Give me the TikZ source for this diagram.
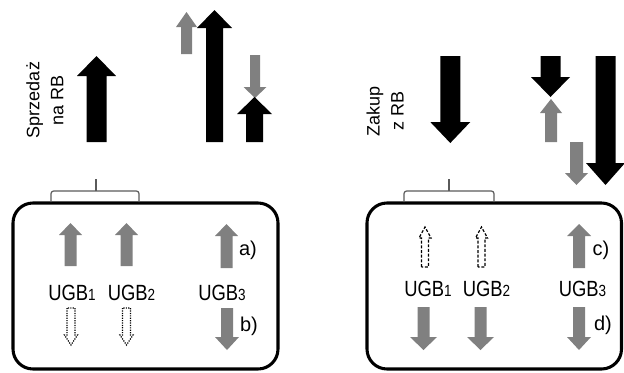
\documentclass[tikz,border=0pt]{standalone}
\usepackage{graphicx}
\usepackage{fontspec}
\setmainfont{Liberation Sans}
\definecolor{arrgray}{HTML}{808080}
\definecolor{bracegray}{HTML}{5A5A5A}
% x, tail y, head-base y, tip y, shaft half-width, head half-width, style
\newcommand{\blkarr}[7]{%
  \path[#7] (#1-#5,#2) -- (#1-#5,#3) -- (#1-#6,#3) -- (#1,#4) -- (#1+#6,#3)
    -- (#1+#5,#3) -- (#1+#5,#2) -- cycle;}
\newcommand{\subnum}[1]{{\fontsize{11}{11}\selectfont #1}}
\newcommand{\ugbtext}[1]{\scalebox{0.92}[1.1]{UGB\subnum{#1}}}
\begin{document}
\begin{tikzpicture}[x=0.75pt,y=-0.75pt,
  blk/.style={fill=black},
  gry/.style={fill=arrgray},
  dotarr/.style={draw=black,line width=0.9pt,dash pattern=on 0.9pt off 0.9pt},
  dasharr/.style={draw=black,line width=0.9pt,dash pattern=on 2.2pt off 1.3pt},
  box/.style={draw=black,line width=2.3pt,rounded corners=15pt},
  brace/.style={draw=bracegray,line width=0.9pt,rounded corners=2pt},
  ugb/.style={inner sep=0pt,font=\fontsize{15}{18}\selectfont},
  lab/.style={inner sep=0pt,font=\fontsize{15}{18}\selectfont},
  rot/.style={inner sep=0pt,rotate=90,align=center,font=\fontsize{13.5}{18}\selectfont}]
\useasboundingbox (0,0) rectangle (624,372);

% ---------- left part: top arrows ----------
\node[rot] (sprzedaz) at (45,100) {Sprzedaż\\na RB};
\blkarr{96.5}{142}{76}{56}{10}{19.5}{blk}
\blkarr{186.5}{54}{27}{12}{5.5}{10.5}{gry}
\blkarr{214.5}{142}{28}{10}{8.5}{17.5}{blk}
\blkarr{255}{55}{87}{98}{5}{11.5}{gry}
\blkarr{254.5}{142}{114}{97}{8.5}{17.5}{blk}

% ---------- left box ----------
\draw[box] (13,203) rectangle (278,369);
\draw[brace] (51,202) -- (51,191) -- (139,191) -- (139,202);
\draw[brace] (96,191) -- (96,179);

\blkarr{70.5}{266}{235}{223}{6}{11.5}{gry}
\blkarr{126.5}{266}{235}{223}{6}{11.5}{gry}
\blkarr{226.5}{268}{236}{224}{6}{11.5}{gry}
\blkarr{227}{308}{337}{350}{6}{12}{gry}
\blkarr{71}{308}{335}{345}{4}{6.5}{dotarr}
\blkarr{126.5}{308}{335}{345}{4}{6.5}{dotarr}

\node[ugb] (ugbla) at (72,293) {\ugbtext{1}};
\node[ugb] (ugblb) at (131.5,293) {\ugbtext{2}};
\node[ugb] (ugblc) at (222,293) {\ugbtext{3}};
\node[lab] (la) at (248,250) {a)};
\node[lab] (lb) at (249,326) {b)};

% ---------- right part: top arrows ----------
\node[rot] (zakup) at (385,111) {Zakup\\z RB};
\blkarr{450.3}{56}{122}{143}{10}{20}{blk}
\blkarr{550.5}{56}{77}{97}{10}{19.5}{blk}
\blkarr{551}{142}{113}{99}{6}{11}{gry}
\blkarr{576.5}{142}{173}{185}{6.5}{11.5}{gry}
\blkarr{605.5}{56}{163}{185}{10}{19.5}{blk}

% ---------- right box ----------
\draw[box] (367,203) rectangle (621.5,369);
\draw[brace] (404,202) -- (404,191) -- (494,191) -- (494,202);
\draw[brace] (449,191) -- (449,179);

\blkarr{425}{267}{238}{227}{3.5}{6}{dasharr}
\blkarr{481.5}{267}{238}{227}{3.5}{6}{dasharr}
\blkarr{423.5}{307}{337}{350}{6}{13.5}{gry}
\blkarr{480.5}{307}{337}{350}{6}{13.5}{gry}
\blkarr{579}{268}{236}{224}{6}{12}{gry}
\blkarr{579}{307}{337}{350}{6}{12}{gry}

\node[ugb] (ugbra) at (428,289) {\ugbtext{1}};
\node[ugb] (ugbrb) at (486.5,289) {\ugbtext{2}};
\node[ugb] (ugbrc) at (582.5,289) {\ugbtext{3}};
\node[lab] (lc) at (601,250) {c)};
\node[lab] (ld) at (603,325) {d)};
\end{tikzpicture}
\end{document}
